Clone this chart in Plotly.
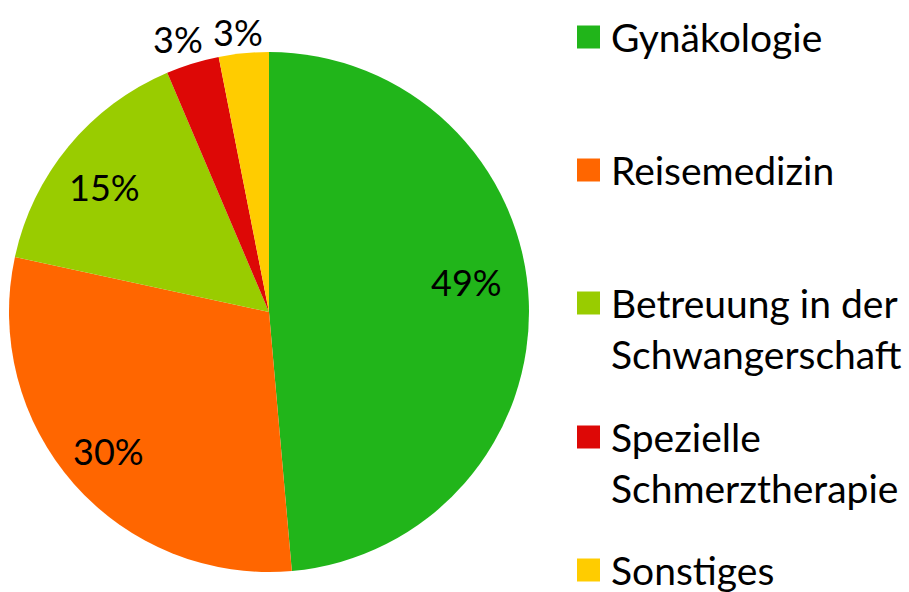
import math
import plotly.graph_objects as go

labels = ["Gynäkologie", "Reisemedizin", "Betreuung in der Schwangerschaft",
          "Spezielle Schmerztherapie", "Sonstiges"]
legend_text = ["Gynäkologie", "Reisemedizin", "Betreuung in der<br>Schwangerschaft",
               "Spezielle<br>Schmerztherapie", "Sonstiges"]
values = [48.6, 29.8, 15.2, 3.3, 3.1]
colors = ["#21B51A", "#FF6600", "#99CC00", "#DD0806", "#FFCC00"]

# styles: value-label placement (fraction of radius, angular nudge in degrees)
label_r = [0.77, 0.81, 0.80, 1.114, 1.09]
label_da = [-6.7, 0.9, -2.0, -1.2, -0.7]
W, H = 909, 592
CX, CY, R = 269, 312, 260
FONT = "Lato"
LEG_SIZE = 39
LAB_SIZE = 36

fig = go.Figure()
fig.add_trace(go.Pie(
    labels=labels, values=values, sort=False, direction="clockwise", rotation=0,
    marker=dict(colors=colors, line=dict(width=0)),
    textinfo="none", showlegend=False, hoverinfo="label+percent",
    domain=dict(x=[(CX - R) / W, (CX + R) / W], y=[(H - CY - R) / H, (H - CY + R) / H]),
))

annots, shapes = [], []

# value labels placed around slice mid-angles
total = sum(values)
cum = 0.0
for v, f, da in zip(values, label_r, label_da):
    mid = (cum + v / 2) / total * 2 * math.pi + math.radians(da)
    cum += v
    px = CX + R * f * math.sin(mid)
    py = CY - R * f * math.cos(mid) + 2
    annots.append(dict(xref="paper", yref="paper", x=px / W, y=1 - py / H,
                       xanchor="center", yanchor="middle", showarrow=False,
                       text=f"{round(v / total * 100)}%",
                       font=dict(family=FONT, size=LAB_SIZE, color="black")))

# custom legend
ys = [37, 170, 303, 437, 570]
line_h = 1.3 * LEG_SIZE
for lab, col, yc in zip(legend_text, colors, ys):
    shapes.append(dict(type="rect", xref="paper", yref="paper",
                       x0=577 / W, x1=600 / W, y0=1 - (yc - 11.5) / H, y1=1 - (yc + 11.5) / H,
                       fillcolor=col, line=dict(width=0)))
    nlines = lab.count("<br>") + 1
    ymid = yc + (nlines - 1) * line_h / 2
    annots.append(dict(xref="paper", yref="paper", x=610 / W, y=1 - ymid / H,
                       xanchor="left", yanchor="middle", showarrow=False, align="left",
                       borderpad=0,
                       text=lab, font=dict(family=FONT, size=LEG_SIZE, color="black")))

fig.update_layout(
    width=W, height=H, margin=dict(l=0, r=0, t=0, b=0, autoexpand=False),
    paper_bgcolor="white", plot_bgcolor="white",
    shapes=shapes, annotations=annots,
)
fig.write_html("out.html", config={"displayModeBar": False},
               post_script="document.body.style.margin='0';document.body.style.overflow='hidden';")
